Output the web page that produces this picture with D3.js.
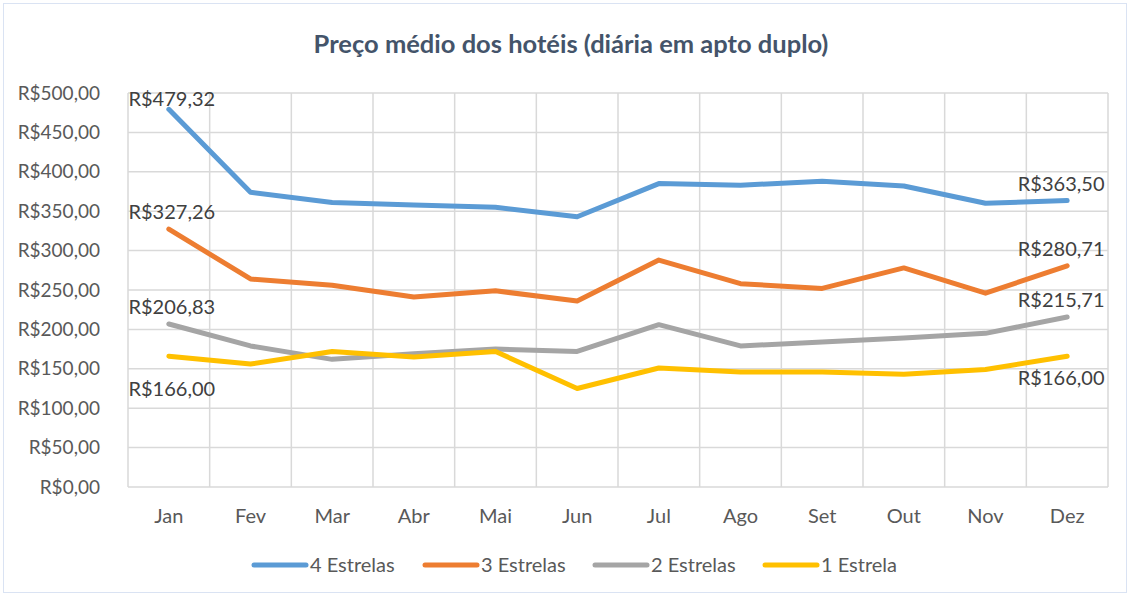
<!DOCTYPE html>
<html>
<head>
<meta charset="utf-8">
<script src="https://cdn.jsdelivr.net/npm/d3@7"></script>
<style>
  body { margin: 0; background: #fff; }
  text { font-family: Lato, "Open Sans", sans-serif; }
</style>
</head>
<body>
<div class="chart"></div>
<script>
var months = ["Jan", "Fev", "Mar", "Abr", "Mai", "Jun", "Jul", "Ago", "Set", "Out", "Nov", "Dez"];
var quatro = [479.32, 374, 361, 358, 355, 343, 385, 383, 388, 382, 360, 363.50];
var tres = [327.26, 264, 256, 241, 249, 236, 288, 258, 252, 278, 246, 280.71];
var dois = [206.83, 179, 162, 169, 175, 172, 206, 179, 184, 189, 195, 215.71];
var uma = [166.00, 156, 172, 165, 172, 125, 151, 146, 146, 143, 149, 166.00];
var seriesNames = ["4 Estrelas", "3 Estrelas", "2 Estrelas", "1 Estrela"];
var yTicks = [0, 50, 100, 150, 200, 250, 300, 350, 400, 450, 500];

var colors = ["#5b9bd5", "#ed7d31", "#a5a5a5", "#ffc000"];
var series = [quatro, tres, dois, uma];
// label position for first/last point: above or below
var labelPos = ["above", "above", "above", "below"];

var W = 1130, H = 596;
var plotL = 128, plotR = 1108, plotT = 93, plotB = 487;
var fs = "20px";

var svg = d3.select(".chart").append("svg")
      .attr("width", W)
      .attr("height", H);

// outer border
svg.append("rect")
   .attr("x", 3.5).attr("y", 3.5)
   .attr("width", W - 7).attr("height", H - 7)
   .attr("fill", "#fff")
   .attr("stroke", "#dae3f3");

var x = d3.scaleBand().domain(months).range([plotL, plotR]);
var y = d3.scaleLinear().domain([0, 500]).range([plotB, plotT]);

var fmt = function(v){
  return "R$" + v.toFixed(2).replace(".", ",");
};

// grid
svg.append("g").selectAll("line")
   .data(yTicks).enter().append("line")
   .attr("x1", plotL).attr("x2", plotR)
   .attr("y1", function(d){ return y(d); })
   .attr("y2", function(d){ return y(d); })
   .attr("stroke", "#d9d9d9")
   .attr("stroke-width", 1.5);

var edges = months.map(function(m){ return x(m); }).concat([plotR]);
svg.append("g").selectAll("line")
   .data(edges).enter().append("line")
   .attr("x1", function(d){ return d; }).attr("x2", function(d){ return d; })
   .attr("y1", plotT).attr("y2", plotB)
   .attr("stroke", "#d9d9d9")
   .attr("stroke-width", 1.5);

// y axis
var yAxis = svg.append("g")
   .attr("transform", "translate(" + (plotL - 25) + ",0)")
   .call(d3.axisLeft(y).tickValues(yTicks).tickFormat(fmt).tickSize(0));
yAxis.select(".domain").remove();
yAxis.selectAll("text")
   .attr("fill", "#595959")
   .style("font-size", "19px")
   .style("font-family", "Lato, sans-serif");

// x axis
var xAxis = svg.append("g")
   .attr("transform", "translate(0," + (plotB + 22) + ")")
   .call(d3.axisBottom(x).tickSize(0));
xAxis.select(".domain").remove();
xAxis.selectAll("text")
   .attr("fill", "#595959")
   .attr("y", 0)
   .attr("dy", "0.71em")
   .style("font-size", fs)
   .style("font-family", "Lato, sans-serif");

// lines
var line = d3.line()
   .x(function(d, i){ return x(months[i]) + x.bandwidth() / 2; })
   .y(function(d){ return y(d); });

series.forEach(function(s, k){
  svg.append("path")
     .datum(s)
     .attr("d", line)
     .attr("fill", "none")
     .attr("stroke", colors[k])
     .attr("stroke-width", 5)
     .attr("stroke-linejoin", "round")
     .attr("stroke-linecap", "round");

  [0, s.length - 1].forEach(function(i){
    var ly;
    if (labelPos[k] === "above") {
      ly = Math.max(y(s[i]) - 10, plotT + 13);
    } else {
      ly = y(s[i]) + (i === 0 ? 40 : 29);
    }
    svg.append("text")
       .attr("x", x(months[i]) + x.bandwidth() / 2 - (i === 0 ? -3 : 6))
       .attr("y", ly)
       .attr("text-anchor", "middle")
       .attr("fill", "#404040")
       .style("font-size", fs)
       .text(fmt(s[i]));
  });
});

// title
svg.append("text")
   .attr("x", 571).attr("y", 53)
   .attr("text-anchor", "middle")
   .attr("fill", "#44546a")
   .style("font-size", "25.5px")
   .style("font-weight", "bold")
   .text("Preço médio dos hotéis (diária em apto duplo)");

// legend
var legendX = [252, 423, 593, 763];
seriesNames.forEach(function(n, k){
  var g = svg.append("g").attr("transform", "translate(" + legendX[k] + ",565)");
  g.append("line")
   .attr("x1", 2).attr("x2", 54)
   .attr("stroke", colors[k])
   .attr("stroke-width", 5)
   .attr("stroke-linecap", "round");
  g.append("text")
   .attr("x", 58).attr("y", 7)
   .attr("fill", "#595959")
   .style("font-size", fs)
   .text(n);
});
</script>
</body>
</html>
